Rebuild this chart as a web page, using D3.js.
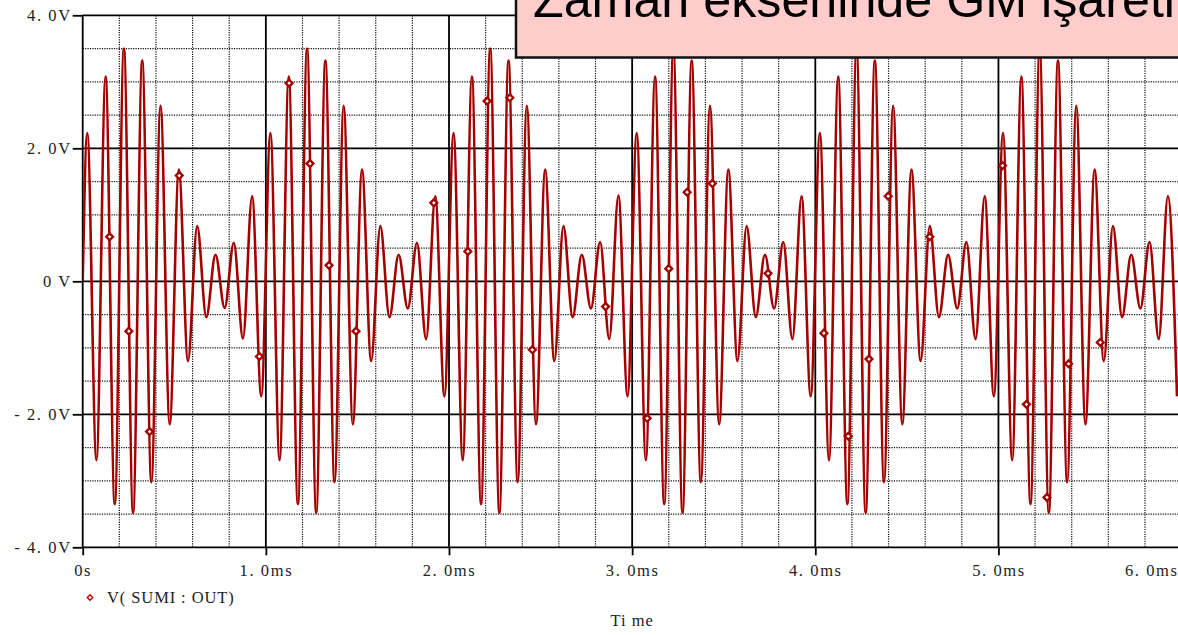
<!DOCTYPE html>
<html>
<head>
<meta charset="utf-8">
<script src="https://cdn.jsdelivr.net/npm/d3@7"></script>
<style>
  html, body { margin: 0; padding: 0; background: #fff; }
  svg { display: block; }
</style>
</head>
<body>
<svg id="chart" width="1178" height="635"></svg>
<script>
// Transient of V(SUM1:OUT): amplitude-modulated carrier, time in ms, voltage in V.
// Each entry is one turning point of the waveform (plus the start sample).
const traceTimes = [
  0,
  0.025, 0.075, 0.125, 0.175, 0.225, 0.275, 0.325, 0.375, 0.425, 0.475,
  0.525, 0.575, 0.625, 0.675, 0.725, 0.775, 0.825, 0.875, 0.925, 0.975,
  1.025, 1.075, 1.125, 1.175, 1.225, 1.275, 1.325, 1.375, 1.425, 1.475,
  1.525, 1.575, 1.625, 1.675, 1.725, 1.775, 1.825, 1.875, 1.925, 1.975,
  2.025, 2.075, 2.125, 2.175, 2.225, 2.275, 2.325, 2.375, 2.425, 2.475,
  2.525, 2.575, 2.625, 2.675, 2.725, 2.775, 2.825, 2.875, 2.925, 2.975,
  3.025, 3.075, 3.125, 3.175, 3.225, 3.275, 3.325, 3.375, 3.425, 3.475,
  3.525, 3.575, 3.625, 3.675, 3.725, 3.775, 3.825, 3.875, 3.925, 3.975,
  4.025, 4.075, 4.125, 4.175, 4.225, 4.275, 4.325, 4.375, 4.425, 4.475,
  4.525, 4.575, 4.625, 4.675, 4.725, 4.775, 4.825, 4.875, 4.925, 4.975,
  5.025, 5.075, 5.125, 5.175, 5.225, 5.275, 5.325, 5.375, 5.425, 5.475,
  5.525, 5.575, 5.625, 5.675, 5.725, 5.775, 5.825, 5.875, 5.925, 5.975
];
const traceVolts = [
  0,
  2.23, -2.69, 3.08, -3.35, 3.50, -3.48, 3.32, -3.02, 2.64, -2.15,
  1.68, -1.20, 0.83, -0.54, 0.40, -0.40, 0.58, -0.86, 1.28, -1.73,
  2.23, -2.69, 3.08, -3.35, 3.50, -3.48, 3.32, -3.02, 2.64, -2.15,
  1.68, -1.20, 0.83, -0.54, 0.40, -0.41, 0.58, -0.87, 1.28, -1.73,
  2.23, -2.69, 3.08, -3.35, 3.50, -3.48, 3.32, -3.02, 2.64, -2.15,
  1.68, -1.20, 0.83, -0.54, 0.40, -0.41, 0.59, -0.87, 1.29, -1.73,
  2.23, -2.69, 3.08, -3.35, 3.50, -3.48, 3.32, -3.02, 2.64, -2.15,
  1.68, -1.20, 0.83, -0.54, 0.40, -0.41, 0.59, -0.87, 1.28, -1.73,
  2.23, -2.69, 3.08, -3.35, 3.50, -3.48, 3.32, -3.02, 2.64, -2.15,
  1.68, -1.20, 0.83, -0.54, 0.40, -0.41, 0.59, -0.87, 1.28, -1.73,
  2.23, -2.69, 3.08, -3.35, 3.50, -3.48, 3.32, -3.02, 2.64, -2.15,
  1.68, -1.20, 0.83, -0.54, 0.40, -0.41, 0.59, -0.87, 1.28, -1.73
];

// Trace symbols placed along the waveform (time ms, volts)
const markerTimes = [0.147, 0.252, 0.365, 0.527, 0.965,
                     1.127, 1.241, 1.345, 1.492, 1.917,
                     2.103, 2.208, 2.332, 2.455, 2.855,
                     3.082, 3.200, 3.300, 3.438, 3.742,
                     4.047, 4.180, 4.293, 4.398, 4.625,
                     5.022, 5.153, 5.265, 5.383, 5.556];
const markerVolts = [0.67, -0.75, -2.26, 1.59, -1.13,
                     2.98, 1.77, 0.24, -0.75, 1.18,
                     0.45, 2.71, 2.76, -1.03, -0.38,
                     -2.06, 0.19, 1.34, 1.47, 0.12,
                     -0.78, -2.33, -1.17, 1.28, 0.67,
                     1.74, -1.85, -3.25, -1.24, -0.92];

const timeTicks = [0, 1, 2, 3, 4, 5, 6];
const timeLabels = ["0s", "1. 0ms", "2. 0ms", "3. 0ms", "4. 0ms", "5. 0ms", "6. 0ms"];
const voltTicks = [-4, -2, 0, 2, 4];
const voltLabels = ["- 4. 0V", "- 2. 0V", "0 V", "2. 0V", "4. 0V"];

const traceName = "V( SUMI : OUT)";
const axisTitle = "Ti me";
const slideTitle = "Zaman ekseninde GM işareti";

const W = 1178, H = 635;
const plot = { left: 82.7, right: 1181.6, top: 15.3, bottom: 547.3 };
const traceColor = "#a30000";
const serif = "'Liberation Serif', 'DejaVu Serif', serif";

const svg = d3.select("#chart");
svg.append("rect").attr("width", W).attr("height", H).attr("fill", "#fff");

const x = d3.scaleLinear().domain([0, 6]).range([plot.left, plot.right]);
const y = d3.scaleLinear().domain([-4, 4]).range([plot.bottom, plot.top]);

// Minor dotted grid
const grid = svg.append("g");
x.ticks(30).filter(t => Math.abs(t - Math.round(t)) > 1e-6).forEach(t => {
  grid.append("line")
    .attr("x1", x(t)).attr("x2", x(t)).attr("y1", plot.top).attr("y2", plot.bottom)
    .attr("stroke", "#111").attr("stroke-width", 1.2).attr("stroke-dasharray", "1.2,1.2");
});
y.ticks(16).filter(v => Math.abs(v / 2 - Math.round(v / 2)) > 1e-6).forEach(v => {
  grid.append("line")
    .attr("x1", plot.left).attr("x2", plot.right).attr("y1", y(v)).attr("y2", y(v))
    .attr("stroke", "#111").attr("stroke-width", 1.2).attr("stroke-dasharray", "1.2,1.2");
});

// Major solid grid
timeTicks.forEach(t => {
  grid.append("line")
    .attr("x1", x(t)).attr("x2", x(t)).attr("y1", plot.top).attr("y2", plot.bottom)
    .attr("stroke", "#000").attr("stroke-width", 1.8);
});
voltTicks.forEach(v => {
  grid.append("line")
    .attr("x1", plot.left).attr("x2", plot.right).attr("y1", y(v)).attr("y2", y(v))
    .attr("stroke", "#000").attr("stroke-width", 1.8);
});

// Axes (tick marks + labels)
const yAxis = d3.axisLeft(y).tickValues(voltTicks).tickSize(10).tickPadding(1)
  .tickFormat((d, i) => voltLabels[i]);
const gy = svg.append("g").attr("transform", `translate(${plot.left},0)`).call(yAxis);
gy.select(".domain").remove();
gy.selectAll(".tick line").attr("stroke", "#000").attr("stroke-width", 1.8);
gy.selectAll(".tick text")
  .attr("font-family", serif).attr("font-size", 16.5).attr("fill", "#222")
  .attr("letter-spacing", 1.6).attr("dy", "0.34em");

const xAxis = d3.axisBottom(x).tickValues(timeTicks).tickSize(8).tickPadding(9)
  .tickFormat((d, i) => timeLabels[i]);
const gx = svg.append("g").attr("transform", `translate(0,${plot.bottom})`).call(xAxis);
gx.select(".domain").remove();
gx.selectAll(".tick line").attr("stroke", "#000").attr("stroke-width", 1.8);
gx.selectAll(".tick text")
  .attr("font-family", serif).attr("font-size", 16.5).attr("fill", "#222")
  .attr("letter-spacing", 1.6);
// keep the last time label inside the window
gx.selectAll(".tick text").each(function (d) {
  const len = this.getComputedTextLength();
  const cx = x(d);
  if (cx + len / 2 > W) d3.select(this).attr("text-anchor", "end").attr("x", W - cx);
});

// Waveform
const line = d3.line()
  .x(i => x(traceTimes[i]))
  .y(i => y(traceVolts[i]))
  .curve(d3.curveMonotoneX);
svg.append("clipPath").attr("id", "plotclip")
  .append("rect").attr("x", plot.left).attr("y", plot.top - 3)
  .attr("width", plot.right - plot.left).attr("height", plot.bottom - plot.top + 6);
svg.append("path")
  .attr("d", line(d3.range(traceTimes.length)))
  .attr("fill", "none").attr("stroke", traceColor)
  .attr("stroke-width", 2.6).attr("stroke-linejoin", "round")
  .attr("clip-path", "url(#plotclip)");

// Diamond trace symbols
const diamond = d3.symbol().type(d3.symbolDiamond2).size(30);
svg.append("g").selectAll("path")
  .data(d3.range(markerTimes.length))
  .join("path")
  .attr("d", diamond)
  .attr("transform", i => `translate(${x(markerTimes[i])},${y(markerVolts[i])})`)
  .attr("fill", "#fff").attr("stroke", traceColor).attr("stroke-width", 2.3);

// Legend
svg.append("path").attr("d", d3.symbol().type(d3.symbolDiamond2).size(18))
  .attr("transform", "translate(90,597.5)")
  .attr("fill", "#fff").attr("stroke", "#c00000").attr("stroke-width", 1.4);
svg.append("text").attr("x", 107).attr("y", 603)
  .attr("font-family", serif).attr("font-size", 16.5).attr("fill", "#222")
  .attr("letter-spacing", 0.9).text(traceName);

// Axis title
svg.append("text").attr("x", x(3)).attr("y", 626).attr("text-anchor", "middle")
  .attr("font-family", serif).attr("font-size", 16.5).attr("fill", "#222")
  .attr("letter-spacing", 1).text(axisTitle);

// Slide caption box
svg.append("rect").attr("x", 516).attr("y", -10).attr("width", 700).attr("height", 67.5)
  .attr("fill", "#ffcccc").attr("stroke", "#111").attr("stroke-width", 2.5);
svg.append("text").attr("x", 533).attr("y", 16.5)
  .attr("font-family", "'Liberation Sans', Arial, sans-serif").attr("font-size", 50)
  .attr("textLength", 642).attr("lengthAdjust", "spacingAndGlyphs")
  .attr("fill", "#000").text(slideTitle);
</script>
</body>
</html>
